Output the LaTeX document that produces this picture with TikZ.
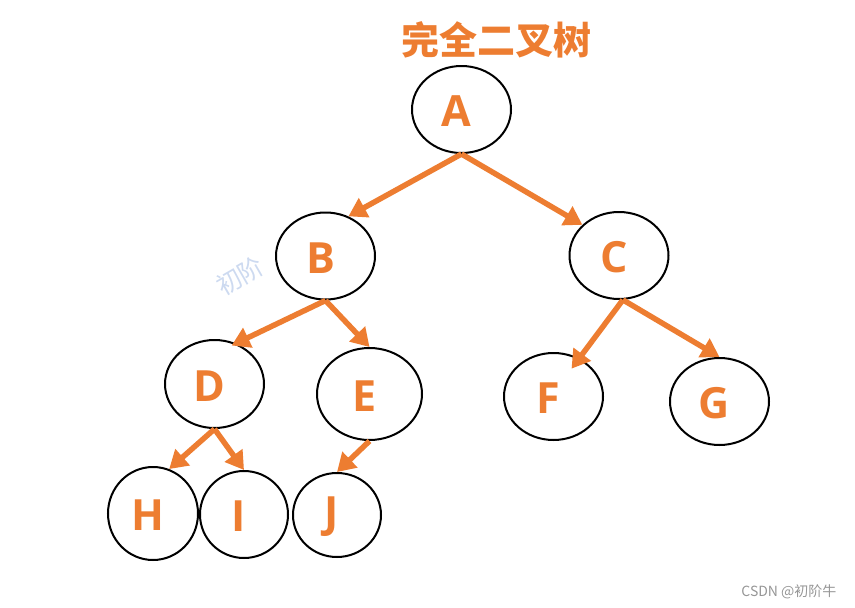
\documentclass[tikz,border=0pt]{standalone}
\usepackage{fontspec}
\setmainfont{Open Sans}
\newfontfamily\cjkfont{Noto Sans CJK SC}
\usetikzlibrary{shapes.geometric, arrows.meta}
\definecolor{treeorange}{RGB}{237,125,49}
\definecolor{markblue}{RGB}{205,218,240}
\definecolor{signgray}{RGB}{150,150,150}

\begin{document}
\begin{tikzpicture}[
    x=1pt, y=-1pt,
    vertex/.style={ellipse, draw=black, line width=2pt, fill=white, inner sep=0pt, minimum width=99pt, minimum height=87pt},
    letter/.style={font=\fontsize{43}{43}\selectfont\bfseries, text=treeorange, xshift=-5pt, yshift=-2pt},
    arr/.style={-{Triangle[length=18pt,width=21pt]}, line width=5.5pt, treeorange},
]
\useasboundingbox (0,0) rectangle (855,608);

\node[rotate=30, text=markblue, font=\cjkfont\fontsize{25}{25}\selectfont, inner sep=0pt] (mark) at (240,276) {初阶};

\node[font=\cjkfont\bfseries\fontsize{38}{38}\selectfont, text=treeorange] (title) at (496,40) {完全二叉树};

\node[vertex, label={[letter]center:A}] (A) at (461.5,109.5) {};
\node[vertex, label={[letter]center:B}] (B) at (325.5,256) {};
\node[vertex, label={[letter]center:C}] (C) at (619,255.5) {};
\node[vertex, minimum height=88pt, label={[letter]center:D}] (D) at (214.5,384) {};
\node[vertex, minimum width=105pt, minimum height=92pt, label={[letter]center:E}] (E) at (369.5,394) {};
\node[vertex, label={[letter]center:F}] (F) at (553.5,396.5) {};
\node[vertex, label={[letter]center:G}] (G) at (719.5,401.5) {};
\node[vertex, minimum width=90pt, minimum height=93pt, label={[letter]center:H}] (H) at (153,513.5) {};
\node[vertex, minimum width=88pt, label={[letter]center:I}] (I) at (244,514.5) {};
\node[vertex, minimum width=88pt, minimum height=84pt, label={[letter]center:J}] (J) at (337,515) {};

\draw[arr] (A.south) -- (B.60);
\draw[arr] (A.south) -- (C.140);
\draw[arr, shorten >=-5pt] (B.south) -- (D.62);
\draw[arr] (B.south) -- (E.north);
\draw[arr, shorten >=-13pt] (C.-85) -- (F.56);
\draw[arr] (C.-85) -- (G.north);
\draw[arr] (D.south) -- (H.70);
\draw[arr] (D.south) -- (I.north);
\draw[arr] (E.south) -- (J.north);

\node[anchor=east, text=signgray, font=\cjkfont\fontsize{14}{14}\selectfont] (sign) at (840,592) {CSDN @初阶牛};

\end{tikzpicture}
\end{document}
